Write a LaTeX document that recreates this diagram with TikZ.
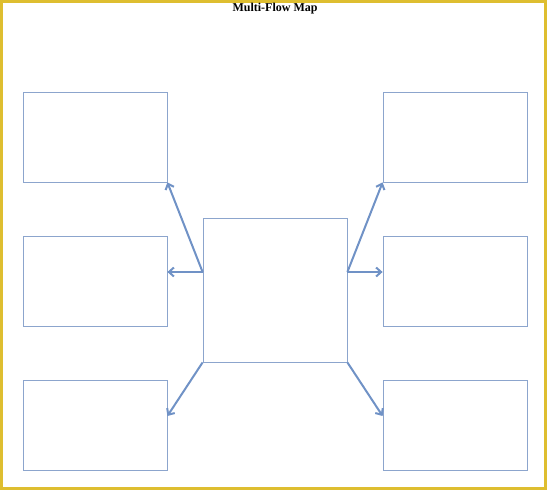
\documentclass[tikz,border=0pt]{standalone}
\usepackage{fontspec}
\setmainfont{Liberation Serif}
\usetikzlibrary{arrows.meta}
\definecolor{frameyellow}{RGB}{222,190,48}
\definecolor{boxblue}{RGB}{140,165,205}
\definecolor{arrowblue}{RGB}{112,146,198}
\tikzset{
  mapbox/.style={draw=boxblue, line width=0.8pt, minimum width=144pt, minimum height=90pt, inner sep=0pt},
  flow/.style={draw=arrowblue, line width=2pt, -{Straight Barb[length=5pt,width=9pt]}}
}
\begin{document}
\begin{tikzpicture}[x=1pt,y=-1pt]
\useasboundingbox (0,0) rectangle (547,490);
\draw [frameyellow, line width=3pt] (1.5,1.5) rectangle (545.5,488.5);
\node [font=\bfseries\fontsize{12}{13}\selectfont] (title) at (275,9) {Multi-Flow Map};
% center box
\node [mapbox, minimum height=144pt] (cause) at (275,290) {};
% left boxes
\node [mapbox] (lt) at (95,137) {};
\node [mapbox] (lm) at (95,281) {};
\node [mapbox] (lb) at (95,425) {};
% right boxes
\node [mapbox] (rt) at (455,137) {};
\node [mapbox] (rm) at (455,281) {};
\node [mapbox] (rb) at (455,425) {};
\draw [flow] ([yshift=18pt]cause.west) -- (lt.south east);
\draw [flow] ([yshift=18pt]cause.west) -- ([yshift=9pt]lm.east);
\draw [flow] (cause.south west) -- ([yshift=9pt]lb.east);
\draw [flow] ([yshift=18pt]cause.east) -- (rt.south west);
\draw [flow] ([yshift=18pt]cause.east) -- ([yshift=9pt]rm.west);
\draw [flow] (cause.south east) -- ([yshift=9pt]rb.west);
\end{tikzpicture}
\end{document}
